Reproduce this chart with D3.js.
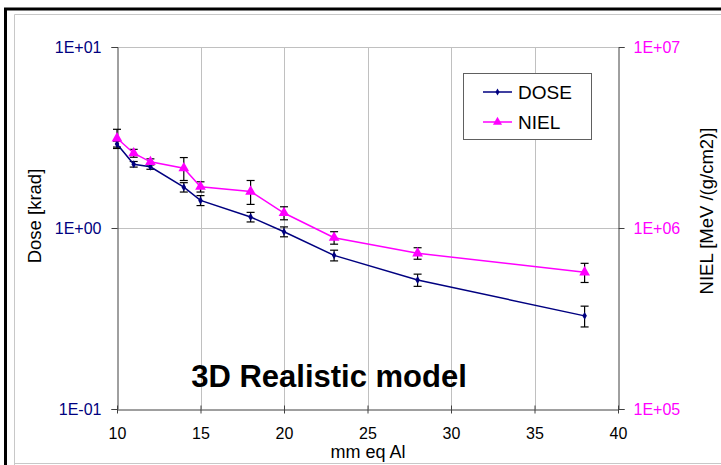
<!DOCTYPE html>
<html>
<head>
<meta charset="utf-8">
<script src="https://cdn.jsdelivr.net/npm/d3@7/dist/d3.min.js"></script>
<style>
  html, body { margin: 0; padding: 0; background: #fff; }
  svg { display: block; font-family: "Liberation Sans", Arial, sans-serif; }
</style>
</head>
<body>
<svg id="chart" width="721" height="465"></svg>
<script>
// Shielding thickness (mm equivalent aluminium)
const thickness = [10, 11, 12, 14, 15, 18, 20, 23, 28, 38];
// Total ionising dose [krad] and its uncertainty
const dose    = [2.91, 2.25, 2.18, 1.68, 1.42, 1.15, 0.954, 0.706, 0.516, 0.327];
const doseErr = [0.11, 0.08, 0.07, 0.10, 0.09, 0.07, 0.06, 0.048, 0.04, 0.043];
// Non-ionising energy loss [MeV/(g/cm2)] and its uncertainty
const niel    = [3.13e6, 2.59e6, 2.32e6, 2.14e6, 1.69e6, 1.59e6, 1.21e6, 8.84e5, 7.25e5, 5.69e5];
const nielErr = [0.38e6, 0.13e6, 0.09e6, 0.31e6, 0.11e6, 0.24e6, 0.10e6, 0.07e6, 0.053e6, 0.069e6];
// Axis ticks
const xTicks = [10, 15, 20, 25, 30, 35, 40];
const doseTicks = [0.1, 1, 10];
const doseTickLabels = ["1E-01", "1E+00", "1E+01"];
const nielTicks = [1e5, 1e6, 1e7];
const nielTickLabels = ["1E+05", "1E+06", "1E+07"];
const seriesNames = ["DOSE", "NIEL"];

const DOSE_COLOR = "#000080";
const NIEL_COLOR = "#ff00ff";
const FONT = "Liberation Sans, Arial, sans-serif";

const svg = d3.select("#chart");
const W = 721, H = 465;
const plot = { left: 117, right: 618, top: 47, bottom: 409 };

// Frame: heavy black top/left edges, thin grey inner border
svg.append("rect").attr("x", 0).attr("y", 0).attr("width", W).attr("height", H).attr("fill", "#fff");
svg.append("line").attr("x1", 4).attr("x2", W).attr("y1", 9).attr("y2", 9).attr("stroke", "#000").attr("stroke-width", 3);
svg.append("line").attr("x1", 5.5).attr("x2", 5.5).attr("y1", 8).attr("y2", H).attr("stroke", "#000").attr("stroke-width", 3);
svg.append("path").attr("d", `M14.5,${H}V14.5H${W}`).attr("fill", "none").attr("stroke", "#c8c8c8").attr("stroke-width", 1);
svg.append("line").attr("x1", 14).attr("x2", W).attr("y1", 463.5).attr("y2", 463.5).attr("stroke", "#c8c8c8").attr("stroke-width", 1);

const x = d3.scaleLinear().domain([10, 40]).range([plot.left, plot.right]);
const yDose = d3.scaleLog().domain([0.1, 10]).range([plot.bottom, plot.top]);
const yNiel = d3.scaleLog().domain([1e5, 1e7]).range([plot.bottom, plot.top]);

// Gridlines
const grid = svg.append("g").attr("stroke", "#c0c0c0").attr("stroke-width", 1);
xTicks.filter(t => t > 10 && t < 40).forEach(t => {
  grid.append("line").attr("x1", Math.round(x(t)) + 0.5).attr("x2", Math.round(x(t)) + 0.5)
    .attr("y1", plot.top).attr("y2", plot.bottom);
});
doseTicks.filter(t => t > 0.1).forEach(t => {
  grid.append("line").attr("x1", plot.left).attr("x2", plot.right)
    .attr("y1", Math.round(yDose(t)) + 0.5).attr("y2", Math.round(yDose(t)) + 0.5);
});

// Axes
const fmtDose = d => doseTickLabels[doseTicks.indexOf(d)];
const fmtNiel = d => nielTickLabels[nielTicks.indexOf(d)];

const axL = svg.append("g").attr("transform", `translate(${plot.left + 0.5},0)`)
  .call(d3.axisLeft(yDose).tickValues(doseTicks).tickFormat(fmtDose).tickSize(6).tickPadding(10));
axL.select(".domain").attr("stroke", "#404040");
axL.selectAll(".tick line").attr("stroke", "#404040");
axL.selectAll("text").attr("fill", DOSE_COLOR).attr("font-size", 16).attr("font-family", FONT);

const axR = svg.append("g").attr("transform", `translate(${plot.right + 0.5},0)`)
  .call(d3.axisRight(yNiel).tickValues(nielTicks).tickFormat(fmtNiel).tickSize(6).tickPadding(9));
axR.select(".domain").attr("stroke", "#404040");
axR.selectAll(".tick line").attr("stroke", "#404040");
axR.selectAll("text").attr("fill", NIEL_COLOR).attr("font-size", 16).attr("font-family", FONT);

const axB = svg.append("g").attr("transform", `translate(0,${plot.bottom + 0.5})`)
  .call(d3.axisBottom(x).tickValues(xTicks).tickFormat(d3.format("d")).tickSizeInner(4).tickSizeOuter(0).tickPadding(14));
axB.select(".domain").attr("stroke", "#404040");
axB.selectAll(".tick line").attr("stroke", "#404040").attr("y1", -4);
axB.selectAll("text").attr("fill", "#000").attr("font-size", 16).attr("font-family", FONT);

// Axis titles
svg.append("text").attr("x", 368).attr("y", 458)
  .attr("text-anchor", "middle").attr("font-size", 18).text("mm eq Al");
svg.append("text").attr("transform", "translate(41,216) rotate(-90)")
  .attr("text-anchor", "middle").attr("font-size", 18.5).text("Dose [krad]");
svg.append("text").attr("transform", "translate(713,211) rotate(-90)")
  .attr("text-anchor", "middle").attr("font-size", 18.5).text("NIEL [MeV /(g/cm2)]");

// Error bars
function errorBars(vals, errs, y) {
  const g = svg.append("g").attr("stroke", "#000").attr("stroke-width", 1.2).attr("fill", "none");
  thickness.forEach((t, i) => {
    const cx = x(t), hi = y(vals[i] + errs[i]), lo = y(vals[i] - errs[i]);
    g.append("line").attr("x1", cx).attr("x2", cx).attr("y1", hi).attr("y2", lo);
    g.append("line").attr("x1", cx - 4).attr("x2", cx + 4).attr("y1", hi).attr("y2", hi);
    g.append("line").attr("x1", cx - 4).attr("x2", cx + 4).attr("y1", lo).attr("y2", lo);
  });
}

// Series lines
const lineDose = d3.line().x((d, i) => x(thickness[i])).y(d => yDose(d));
const lineNiel = d3.line().x((d, i) => x(thickness[i])).y(d => yNiel(d));

errorBars(dose, doseErr, yDose);
errorBars(niel, nielErr, yNiel);

svg.append("path").datum(dose).attr("d", lineDose).attr("fill", "none").attr("stroke", DOSE_COLOR).attr("stroke-width", 1.5);
svg.append("path").datum(niel).attr("d", lineNiel).attr("fill", "none").attr("stroke", NIEL_COLOR).attr("stroke-width", 1.5);

const diamond = d3.symbol().type(d3.symbolDiamond).size(18);
const triangle = d3.symbol().type(d3.symbolTriangle).size(50);

svg.append("g").selectAll("path").data(dose).join("path")
  .attr("transform", (d, i) => `translate(${x(thickness[i])},${yDose(d)})`)
  .attr("d", diamond).attr("fill", DOSE_COLOR);
svg.append("g").selectAll("path").data(niel).join("path")
  .attr("transform", (d, i) => `translate(${x(thickness[i])},${yNiel(d)})`)
  .attr("d", triangle).attr("fill", NIEL_COLOR);

// Legend
const lg = svg.append("g");
lg.append("rect").attr("x", 463.5).attr("y", 73.5).attr("width", 128).attr("height", 66)
  .attr("fill", "#fff").attr("stroke", "#606060").attr("stroke-width", 1);
[[DOSE_COLOR, 92], [NIEL_COLOR, 122]].forEach(([c, yy], k) => {
  lg.append("line").attr("x1", 483).attr("x2", 512).attr("y1", yy).attr("y2", yy).attr("stroke", c).attr("stroke-width", 1.5);
  lg.append("path").attr("transform", `translate(497.5,${yy})`)
    .attr("d", k === 0 ? d3.symbol().type(d3.symbolDiamond).size(14)() : d3.symbol().type(d3.symbolTriangle).size(36)())
    .attr("fill", c);
  lg.append("text").attr("x", 518).attr("y", yy + 6.5).attr("font-size", 19).attr("fill", "#000").text(seriesNames[k]);
});

// Chart caption inside the plot
svg.append("text").attr("x", 329).attr("y", 387).attr("text-anchor", "middle")
  .attr("font-size", 31).attr("font-weight", "bold").attr("fill", "#000").text("3D Realistic model");
</script>
</body>
</html>
